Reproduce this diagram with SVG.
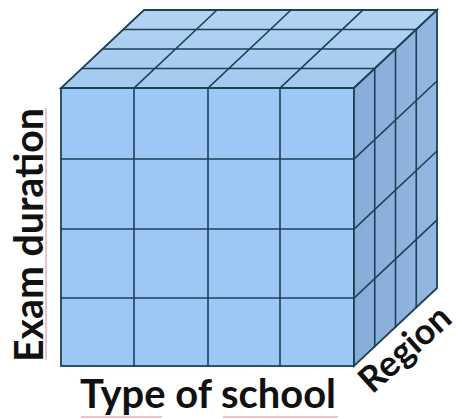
<svg xmlns="http://www.w3.org/2000/svg" width="462" height="419" viewBox="0 0 462 419">
<defs>
<style>
.grid{stroke:#1b4257;stroke-width:1.6;fill:none;stroke-linecap:square}
.edge{stroke:#1b4257;stroke-width:1.8;stroke-linejoin:miter}
.lbl{font-family:Lato,"Open Sans","Liberation Sans",sans-serif;font-weight:bold;font-size:40px;fill:#111}
.spell{stroke:#e05050;stroke-width:1;fill:none;opacity:0.7}
</style>
<linearGradient id="topg" x1="0" y1="1" x2="0" y2="0">
<stop offset="0" stop-color="#a3c9f0"/>
<stop offset="1" stop-color="#b3d4f3"/>
</linearGradient>
<linearGradient id="rightg" x1="0" y1="0" x2="1" y2="0">
<stop offset="0" stop-color="#86acd8"/>
<stop offset="1" stop-color="#93b7e0"/>
</linearGradient>
</defs>
<rect width="462" height="419" fill="#ffffff"/>
<g id="cube">
<g id="front-face">
<rect x="61" y="88" width="293" height="278" fill="#9dc7f4" class="edge"/>
<path class="grid" d="M134,88V366M208,88V366M280,88V366M61,159H354M61,229H354M61,298H354"/>
</g>
<g id="top-face">
<polygon points="61,88 354,88 437,10 144,10" fill="url(#topg)" class="edge"/>
<path class="grid" d="M81.75,68.5H374.75M102.5,49H395.5M123.25,29.5H416.25M134,88L217,10M208,88L291,10M280,88L363,10"/>
</g>
<g id="right-face">
<polygon points="354,88 437,10 437,288 354,366" fill="url(#rightg)" class="edge"/>
<path class="grid" d="M374.75,68.5V346.5M395.5,49V327M416.25,29.5V307.5M354,159L437,81M354,229L437,151M354,298L437,220"/>
</g>
</g>
<g id="labels">
<text class="lbl" transform="translate(43,235) rotate(-90)" text-anchor="middle" textLength="254" lengthAdjust="spacingAndGlyphs">Exam duration</text>
<text class="lbl" x="80" y="408" textLength="256" lengthAdjust="spacingAndGlyphs">Type of school</text>
<text class="lbl" transform="translate(413,358) rotate(-42)" text-anchor="middle" textLength="110" lengthAdjust="spacingAndGlyphs" style="font-size:36px">Region</text>
<path class="spell" d="M46,108V360M81,417H162M223,417H338"/>
</g>
</svg>
